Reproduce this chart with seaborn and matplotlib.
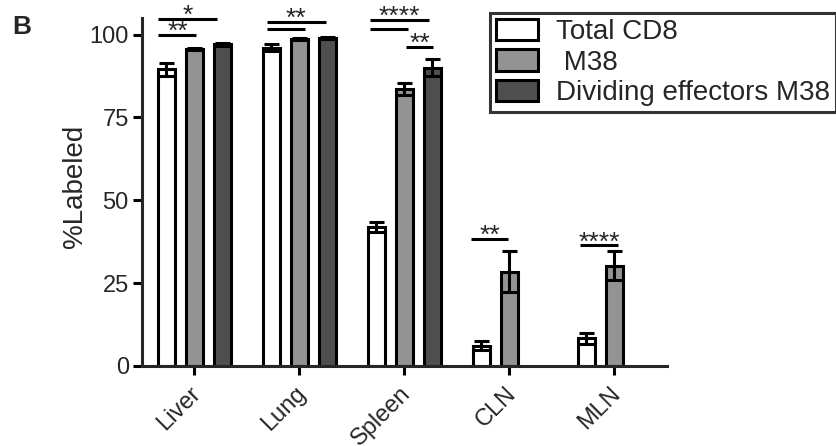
import matplotlib
matplotlib.use("Agg")
import matplotlib.pyplot as plt
from matplotlib.patches import Patch
from matplotlib.transforms import ScaledTranslation
import seaborn as sns
import pandas as pd
import numpy as np

# ---- data ----
organs = ["Liver", "Lung", "Spleen", "CLN", "MLN"]
groups = ["Total CD8", " M38", "Dividing effectors M38"]
total_cd8 = [89.5, 96.0, 41.9, 6.1, 8.3]
total_cd8_err = [2.0, 1.1, 1.5, 1.3, 1.6]
m38 = [95.6, 98.8, 83.6, 28.5, 30.3]
m38_err = [0.4, 0.3, 1.9, 6.3, 4.4]
dividing = [97.1, 98.9, 90.0, np.nan, np.nan]
dividing_err = [0.4, 0.3, 2.5, np.nan, np.nan]
colors = ["#ffffff", "#939393", "#4f4f4f"]

# significance annotations: (organ, x start offset, x end offset, y, label)
sig = [
    ("Liver", -0.343, 0.019, 100.0, "**"),
    ("Liver", -0.343, 0.21, 104.8, "*"),
    ("Lung", -0.314, 0.248, 103.8, "**"),
    ("Lung", -0.314, 0.048, 101.7, ""),
    ("Spleen", -0.324, 0.229, 104.5, "****"),
    ("Spleen", -0.324, 0.038, 101.8, ""),
    ("Spleen", 0.019, 0.267, 96.3, "**"),
    ("CLN", -0.362, -0.01, 38.3, "**"),
    ("MLN", -0.324, 0.038, 36.4, "****"),
]

rows = []
for g, vals, errs in zip(groups, [total_cd8, m38, dividing],
                         [total_cd8_err, m38_err, dividing_err]):
    for o, v, e in zip(organs, vals, errs):
        if not np.isnan(v):
            rows.append({"organ": o, "group": g, "value": v, "err": e})
df = pd.DataFrame(rows)

sns.set_style("ticks")
plt.rcParams["font.family"] = ["Liberation Sans", "DejaVu Sans"]

fig = plt.figure(figsize=(8.37, 4.46), dpi=100)
ax = fig.add_axes([142 / 837, 1 - 366 / 446, (667 - 142) / 837, (366 - 18) / 446])

sns.barplot(data=df, x="organ", y="value", hue="group", order=organs,
            hue_order=groups, palette=dict(zip(groups, colors)),
            edgecolor="black", linewidth=2.2, width=0.8, gap=0.38,
            errorbar=None, legend=False, ax=ax)

# error bars at the bar positions
for cont, g in zip(ax.containers, groups):
    present = set(df[df["group"] == g]["organ"])
    sub = df[df["group"] == g].set_index("organ").reindex(
        [o for o in organs if o in present])
    xs = [p.get_x() + p.get_width() / 2 for p in cont.patches]
    ax.errorbar(xs, sub["value"].values, yerr=sub["err"].values, fmt="none",
                ecolor="black", elinewidth=2.2, capsize=5.4, capthick=2.2,
                zorder=5, clip_on=False)

ax.set_xlim(-0.5, 4.5)
ax.set_ylim(0, 105)
ax.set_yticks([0, 25, 50, 75, 100])
ax.set_xlabel("")
ax.set_ylabel("%Labeled", fontsize=20, labelpad=1)
ax.yaxis.label.set_y(0.516)
sns.despine(ax=ax)
for s in ["left", "bottom"]:
    ax.spines[s].set_linewidth(2.2)
ax.tick_params(axis="both", width=2.2, length=6.5, labelsize=17, color="black")
ax.tick_params(axis="y", pad=3)
shift = ScaledTranslation(-0.05, -0.025, fig.dpi_scale_trans)
for lab in ax.get_xticklabels():
    lab.set_rotation(45)
    lab.set_ha("right")
    lab.set_rotation_mode("anchor")
    lab.set_fontsize(17)
    lab.set_transform(lab.get_transform() + shift)

for o, x0, x1, y, lab in sig:
    i = organs.index(o)
    ax.plot([i + x0, i + x1], [y, y], color="black", lw=2.2,
            solid_capstyle="butt", clip_on=False)
    if lab:
        ax.annotate(lab, xy=(i + (x0 + x1) / 2, y), xytext=(0, -3),
                    textcoords="offset points", ha="center", va="baseline",
                    fontsize=19, annotation_clip=False)

handles = [Patch(facecolor=c, edgecolor="black", linewidth=2.2) for c in colors]
leg = fig.legend(handles, groups, loc="upper left",
                 bbox_to_anchor=(490 / 837, 1 - 12.7 / 446), borderaxespad=0,
                 fontsize=20, frameon=True, fancybox=False, handlelength=1.5,
                 handleheight=0.8, labelspacing=0.15, handletextpad=0.65,
                 borderpad=0.22)
leg.get_frame().set_edgecolor("black")
leg.get_frame().set_linewidth(2.2)

fig.text(12 / 837, 1 - 34 / 446, "B", fontsize=19, fontweight="bold",
         ha="left", va="baseline")

fig.savefig("out.png", dpi=100)
